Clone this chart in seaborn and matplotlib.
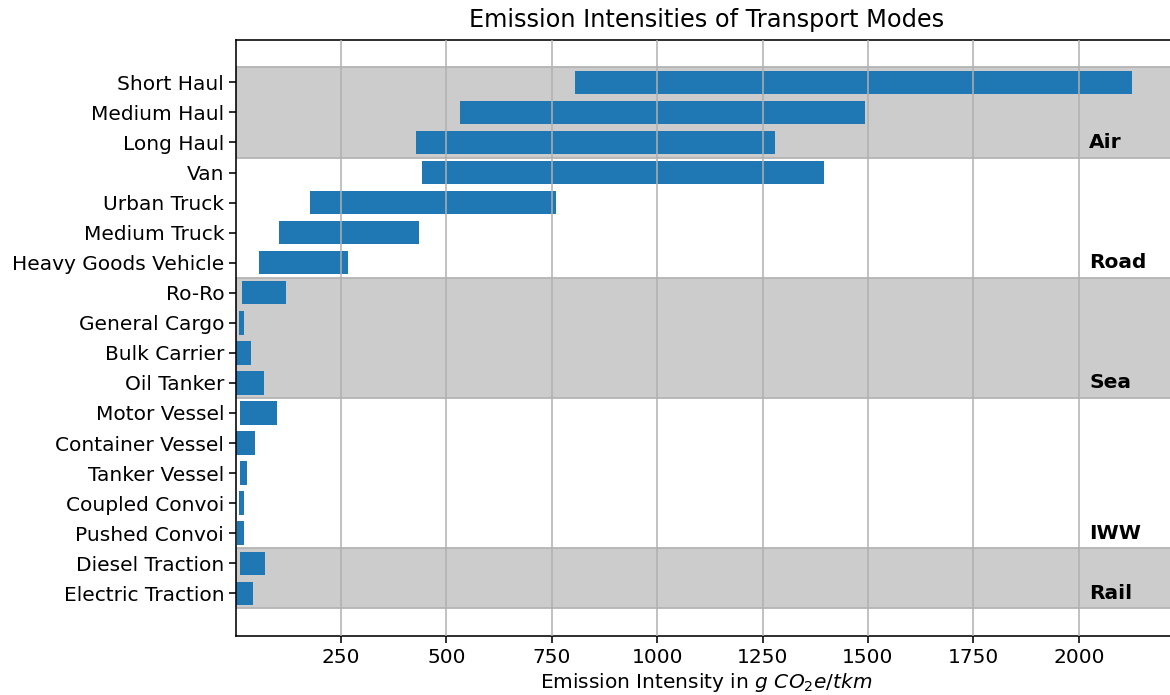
import matplotlib
matplotlib.use("Agg")
import matplotlib.pyplot as plt
import seaborn as sns
import pandas as pd

# Emission intensity ranges (g CO2e per tonne-km) per transport mode
modes = [
    "Short Haul", "Medium Haul", "Long Haul",
    "Van", "Urban Truck", "Medium Truck", "Heavy Goods Vehicle",
    "Ro-Ro", "General Cargo", "Bulk Carrier", "Oil Tanker",
    "Motor Vessel", "Container Vessel", "Tanker Vessel", "Coupled Convoi", "Pushed Convoi",
    "Diesel Traction", "Electric Traction",
]
low = [805, 533, 428, 441, 176, 103, 55, 16, 8, 1, 1, 10, 1, 10, 8, 4, 10, 1]
high = [2127, 1494, 1279, 1395, 760, 436, 267, 120, 21, 37, 68, 99, 47, 26, 21, 21, 70, 42]
groups = ["Air"] * 3 + ["Road"] * 4 + ["Sea"] * 4 + ["IWW"] * 5 + ["Rail"] * 2
shaded_groups = ["Air", "Sea", "Rail"]

df = pd.DataFrame({"mode": modes, "low": low, "high": high, "group": groups})
df["span"] = df["high"] - df["low"]

plt.rcParams["font.family"] = ["DejaVu Sans"]
plt.rcParams["font.size"] = 14.5

fig = plt.figure(figsize=(11.7, 6.95), dpi=100)
ax = fig.add_axes([236 / 1170, 59 / 695, (1177 - 236) / 1170, (636 - 40) / 695])

sns.barplot(data=df, x="span", y="mode", order=modes, left=df["low"].values,
            color="#1f77b4", saturation=1, errorbar=None, width=0.78,
            orient="h", ax=ax, zorder=1.5, linewidth=0)

# shaded bands and bold labels for each transport group
for g in dict.fromkeys(groups):
    idx = [i for i, gg in enumerate(groups) if gg == g]
    top, bottom = min(idx) - 0.5, max(idx) + 0.5
    if g in shaded_groups:
        ax.axhspan(top, bottom, facecolor="#cccccc", edgecolor="#b4b4b4",
                   linewidth=1.3, zorder=0.5)
    ax.text(2025, max(idx), g, fontweight="bold", ha="left", va="center",
            fontsize=14.5, zorder=3)

ax.set_xlim(min(low), 2233)
ax.set_ylim(18.42, -1.41)
ax.set_axisbelow(False)
ax.grid(axis="x", color="#b0b0b0", linewidth=1.1, zorder=2)
ax.grid(axis="y", visible=False)
ax.set_xticks([250, 500, 750, 1000, 1250, 1500, 1750, 2000])

for s in ax.spines.values():
    s.set_linewidth(1.15)
ax.tick_params(length=5, width=1.15, labelsize=14.5)

ax.set_title("Emission Intensities of Transport Modes", fontsize=17.3, pad=9)
ax.set_xlabel(r"Emission Intensity in $g\ CO_2e/tkm$", fontsize=14.5, labelpad=3)
ax.set_ylabel("")

fig.savefig("out.png", dpi=100)
